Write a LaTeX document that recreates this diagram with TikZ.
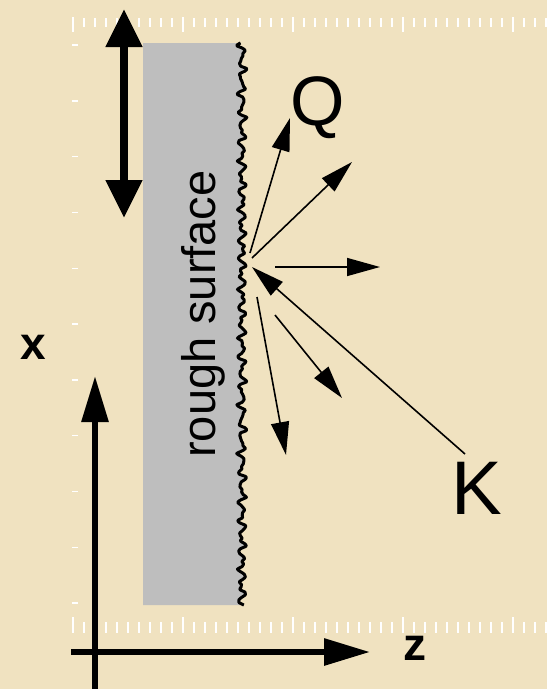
\documentclass[tikz,border=0pt]{standalone}
\usepackage{fontspec}
\setmainfont{Liberation Sans}
\usetikzlibrary{arrows.meta}
\definecolor{parch}{RGB}{240,226,192}
\definecolor{surf}{RGB}{190,190,190}
\tikzset{
  thinarrow/.style={line width=1.6pt,-{Triangle[length=33pt,width=18pt]}},
  thickdouble/.style={line width=8pt,{Triangle[length=38pt,width=35pt]}-{Triangle[length=38pt,width=35pt]}},
  axisarrow/.style={line width=6pt,-{Triangle[length=46pt,width=26pt]}},
  bigletter/.style={inner sep=0pt,font=\fontsize{70}{70}\selectfont},
  axislabel/.style={inner sep=0pt,font=\fontsize{46}{46}\selectfont\bfseries},
  tick/.style={white,line width=1.4pt},
  edge/.style={line width=3pt,line join=round}
}
\newcommand{\roughx}[1]{242+2.6*sin(22*mod(#1,16.3636))+1.8*sin(37*mod(#1,9.7297)+40)+1.0*sin(53*mod(#1,6.7925)+10)}
\begin{document}
\begin{tikzpicture}[x=1pt,y=-1pt]
\useasboundingbox (0,0) rectangle (547,689);
\fill[parch] (0,0) rectangle (547,689);
% rulers (background marks)
\foreach \i in {0,...,43}{
  \pgfmathsetmacro{\xx}{73+11*\i}
  \pgfmathtruncatemacro{\m}{mod(\i,10)}
  \ifnum\m=0
    \draw[tick] (\xx,17) -- (\xx,32);
    \draw[tick] (\xx,617) -- (\xx,633);
  \else
    \draw[tick] (\xx,18) -- (\xx,27);
    \draw[tick] (\xx,622) -- (\xx,633);
  \fi
}
\foreach \k in {0,...,10}{
  \pgfmathsetmacro{\yy}{45+55.8*\k}
  \draw[tick] (72,\yy) -- (78,\yy);
}
% rough surface block
\fill[surf] (143,43) -- plot[domain=43:605,samples=220,smooth] ({\roughx{\x}},\x) -- (143,605) -- cycle;
\draw[edge] plot[domain=43:605,samples=220,smooth] ({\roughx{\x}},\x);
\node[inner sep=0pt,rotate=90,font=\fontsize{47}{47}\selectfont] (rs) at (203,314) {rough surface};
% double arrow
\coordinate (dtop) at (124,9);
\coordinate (dbot) at (124,218);
\draw[thickdouble] (dtop) -- (dbot);
% labels
\node[bigletter] (Q) at (318,108) {Q};
\node[bigletter,font=\fontsize{76}{76}\selectfont] (K) at (477,488) {K};
\node[axislabel] (xl) at (33,347) {x};
\node[axislabel] (zl) at (415,648) {z};
% scattering arrows
\coordinate (o1) at (250,253);
\coordinate (t1) at (290,118);
\coordinate (o2) at (252,258);
\coordinate (t2) at (352,162);
\coordinate (o3) at (275,267);
\coordinate (t3) at (380,267);
\coordinate (kin) at (465,454);
\coordinate (hit) at (252,267);
\coordinate (o4) at (275,315);
\coordinate (t4) at (342,398);
\coordinate (o5) at (257,297);
\coordinate (t5) at (286,455);
\draw[thinarrow] (o1) -- (t1);
\draw[thinarrow] (o2) -- (t2);
\draw[thinarrow] (o3) -- (t3);
\draw[thinarrow] (kin) -- (hit);
\draw[thinarrow] (o4) -- (t4);
\draw[thinarrow] (o5) -- (t5);
% axes
\coordinate (vbot) at (95,689);
\coordinate (vtop) at (95,376);
\coordinate (hleft) at (71,652);
\coordinate (hright) at (370,652);
\draw[axisarrow] (vbot) -- (vtop);
\draw[axisarrow] (hleft) -- (hright);
\end{tikzpicture}
\end{document}
